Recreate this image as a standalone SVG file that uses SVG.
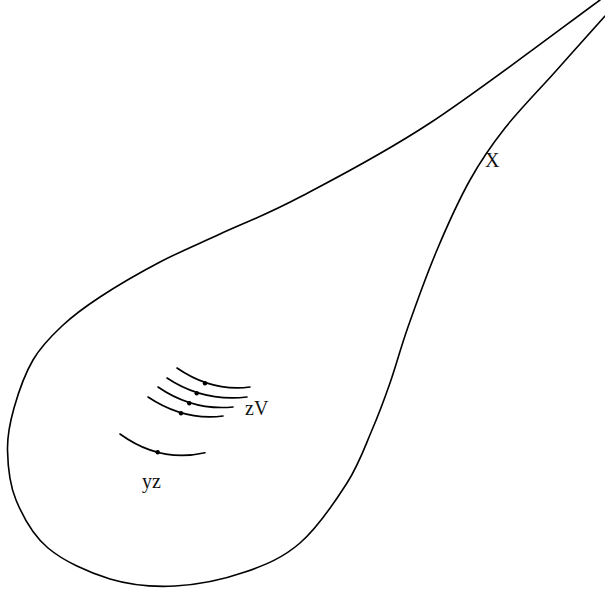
<svg xmlns="http://www.w3.org/2000/svg" width="605" height="592" viewBox="0 0 605 592">
<style>
.ln{fill:none;stroke:#000;stroke-width:1.6;stroke-linecap:round}
.dot{fill:#000}
.lbl{font-family:"Liberation Serif","Times New Roman",serif;font-size:20px;fill:#111}
</style>
<rect width="605" height="592" fill="#fff"/>
<g id="outline">
<path class="ln" d="M600,0 C571.7,20.5 480,90.2 430,123 C380,155.8 335,178.5 300,197 C265,215.5 243.3,223.2 220,234 C196.7,244.8 180,251.5 160,262 C140,272.5 116.3,286.3 100,297 C83.7,307.7 73.2,315.5 62,326 C50.8,336.5 41,346.3 33,360 C25,373.7 18.25,393 14,408 C9.75,423 7.2,434.7 7.5,450 C7.8,465.3 9.25,483.7 16,500 C22.75,516.3 32.3,534.8 48,548 C63.7,561.2 88.8,572.7 110,579 C131.2,585.3 152.5,587.2 175,586 C197.5,584.8 224.2,579.2 245,572 C265.8,564.8 283,557.8 300,543 C317,528.2 335,501.8 347,483 C359,464.2 364.8,446.7 372,430 C379.2,413.3 384,400.2 390,383 C396,365.8 400.2,349.2 408,327 C415.8,304.8 426.7,274.5 437,250 C447.3,225.5 458.7,200.3 470,180 C481.3,159.7 490.8,146 505,128 C519.2,110 538.3,90.7 555,72 C571.7,53.3 596.7,25.3 605,16"/>
</g>
<g id="curves">
<path class="ln" d="M177,368 Q212,392 250,387"/>
<path class="ln" d="M167,378 Q203,402 247,397"/>
<path class="ln" d="M158,387 Q193,411 233,407"/>
<path class="ln" d="M148,397 Q184,421 223,416"/>
<path class="ln" d="M120,434 Q160,463 205,452.7"/>
</g>
<g id="points">
<circle class="dot" cx="205" cy="383.3" r="2.2"/>
<circle class="dot" cx="196.7" cy="393.3" r="2.2"/>
<circle class="dot" cx="189.3" cy="403.3" r="2.2"/>
<circle class="dot" cx="181" cy="413.3" r="2.2"/>
<circle class="dot" cx="157.7" cy="452.3" r="2.2"/>
</g>
<g id="labels">
<text class="lbl" x="485" y="166.5">X</text>
<text class="lbl" x="245" y="414.5">zV</text>
<text class="lbl" x="142" y="487.7">yz</text>
</g>
</svg>
